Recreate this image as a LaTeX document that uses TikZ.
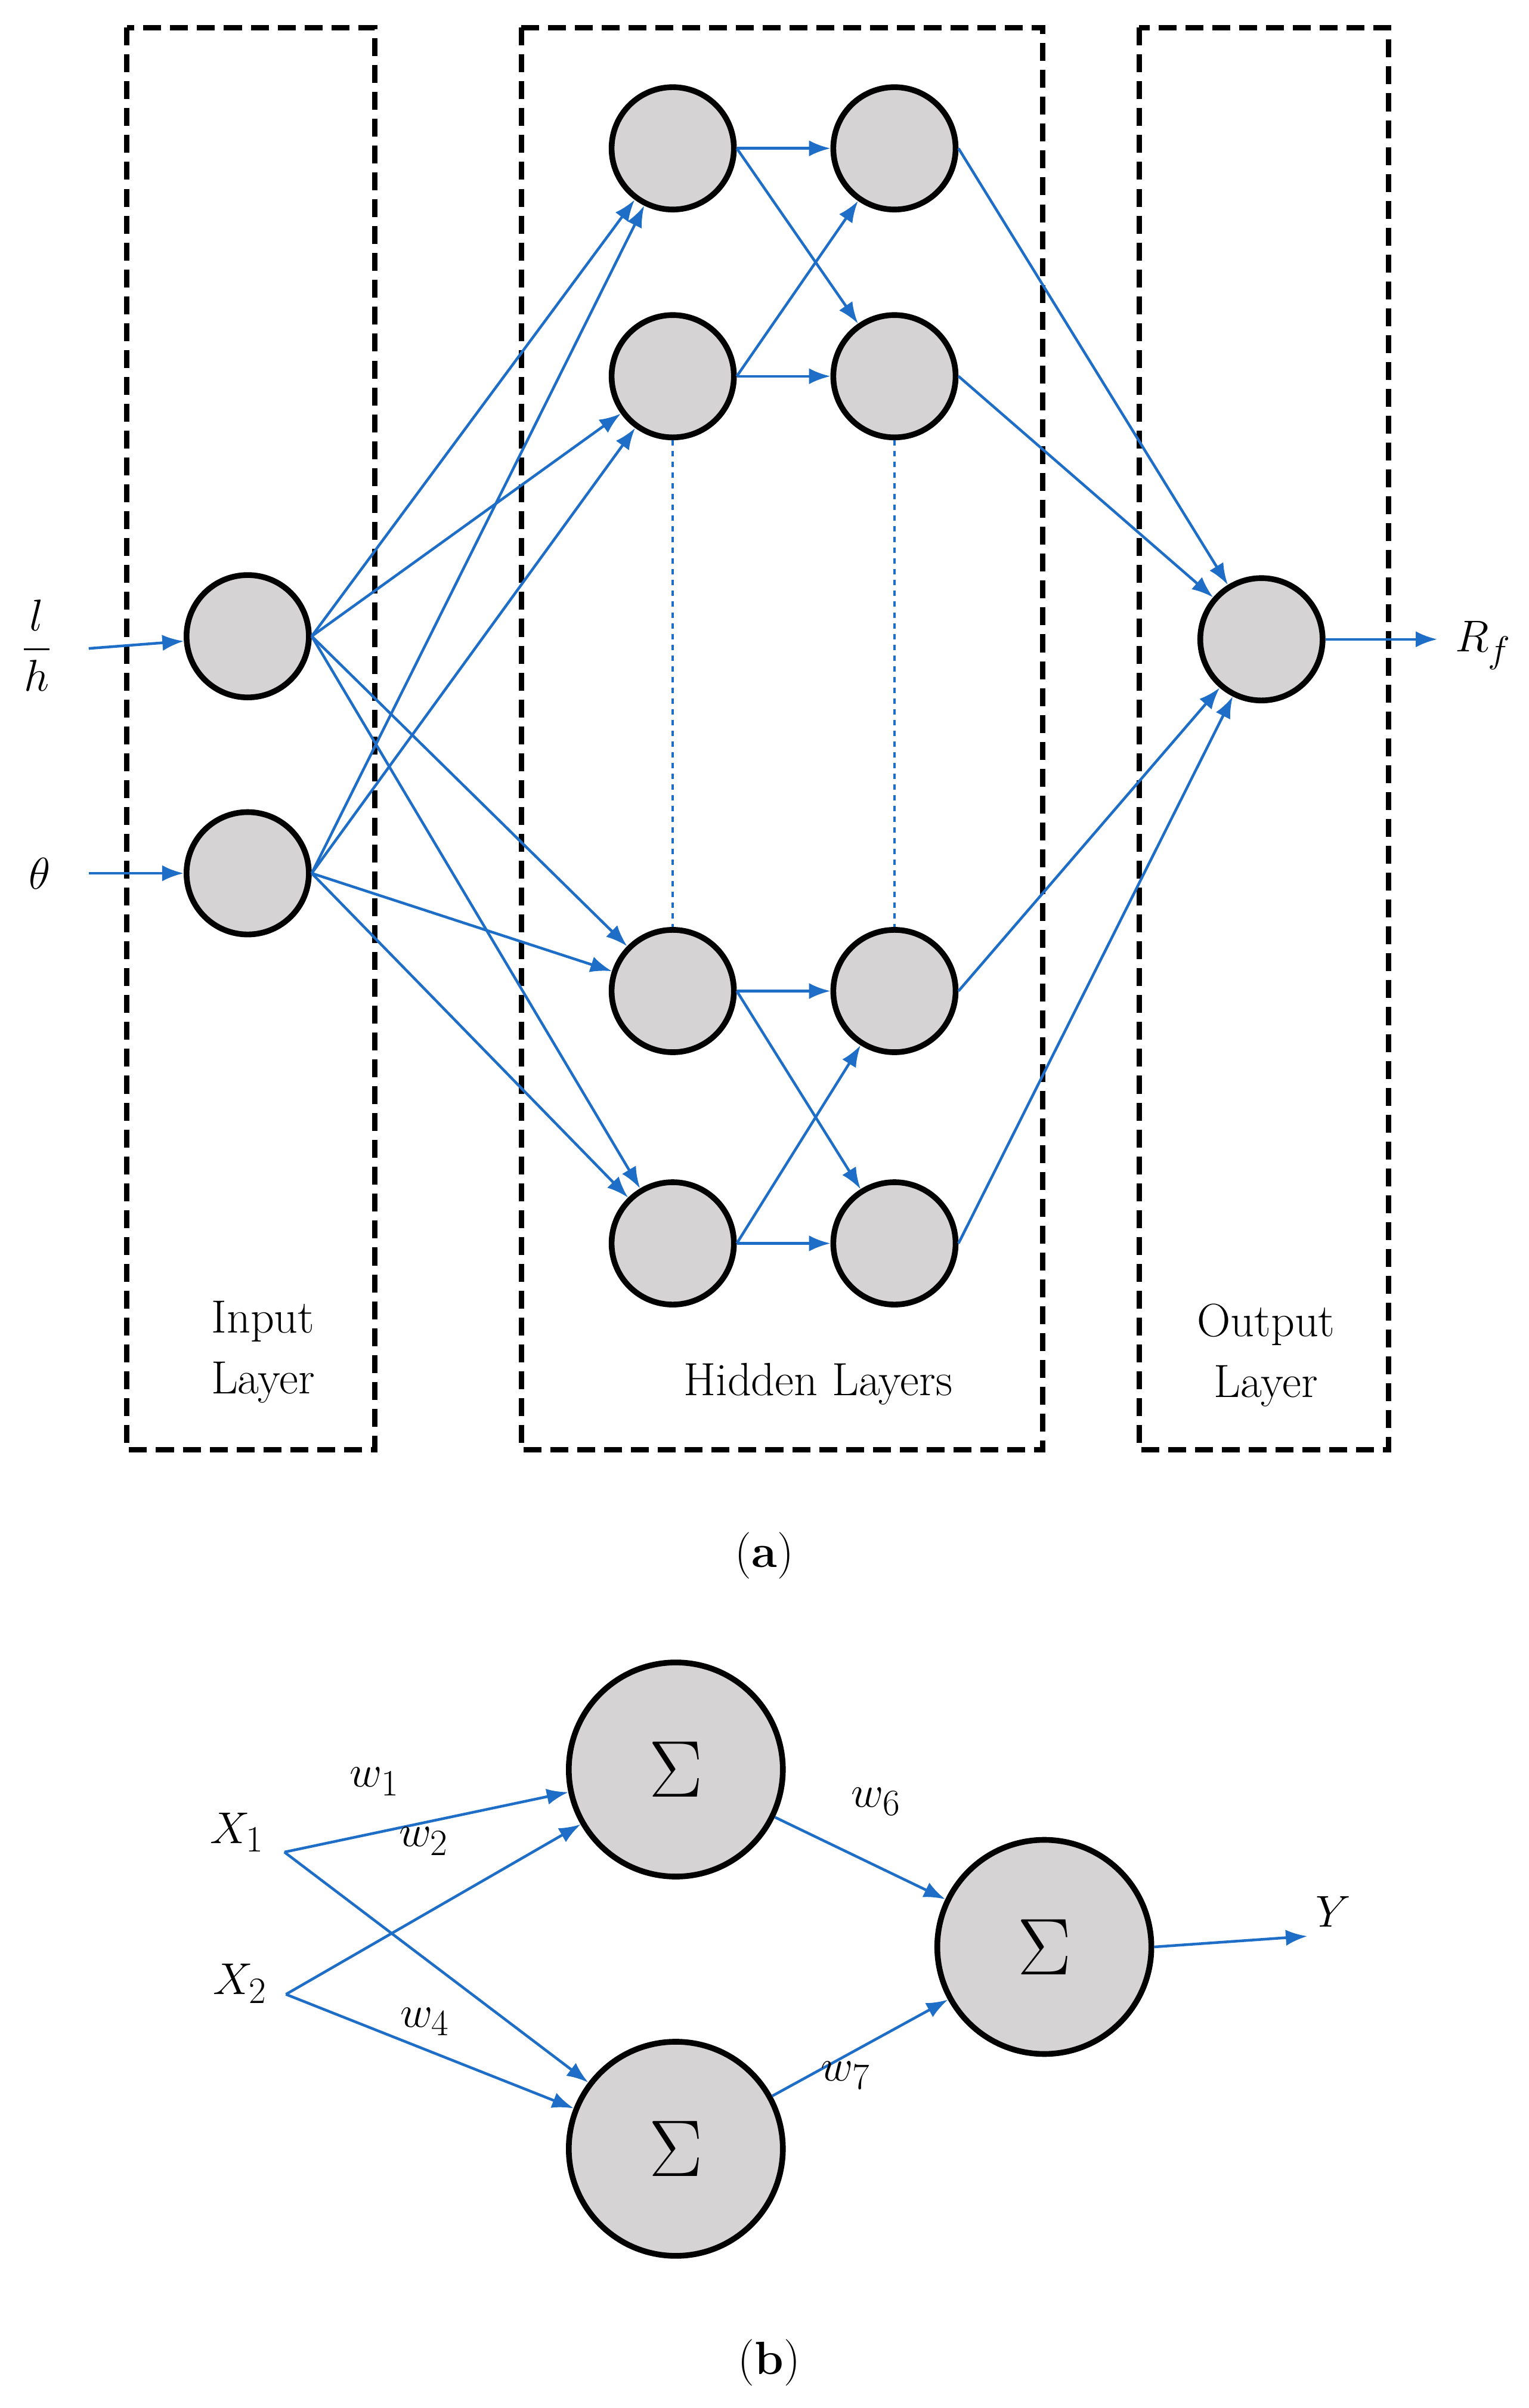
\documentclass[tikz,border=0pt]{standalone}
\usepackage{amsmath}
\usepackage{graphicx}
\usepackage{tikz}
\usetikzlibrary{positioning,arrows.meta}
\definecolor{arrblue}{RGB}{30,110,200}
\definecolor{nodegray}{RGB}{214,211,212}
\newcommand{\bigsum}{\scalebox{2.6}{$\Sigma$}}
\begin{document}
\begin{tikzpicture}
	[
		x=0.03cm, y=-0.03cm,
		neuron/.style={circle, draw=black, line width=3.2pt, fill=nodegray, minimum size=2.4cm, inner sep=0pt},
		bigneuron/.style={circle, draw=black, line width=3.2pt, fill=nodegray, minimum size=4.2cm, inner sep=0pt, font=\fontsize{17}{17}\selectfont},
		layerbox/.style={draw=black, line width=3pt, dash pattern=on 10pt off 5pt},
		conn/.style={draw=arrblue, line width=1.5pt, -{Latex[length=12pt,width=9pt]}},
		lbl/.style={font=\fontsize{26}{30}\selectfont},
		mlbl/.style={font=\fontsize{30}{34}\selectfont}
	]
	\useasboundingbox (0,0) rectangle (1000,1574.5);
	% layer boxes
	\draw[layerbox] (83,18) rectangle (245,948);
	\draw[layerbox] (341,18) rectangle (682,948);
	\draw[layerbox] (745,18) rectangle (908,948);
	% neurons
	\node[neuron](in1) at (162,416) {};
	\node[neuron](in2) at (162,571) {};
	\foreach \i/\y in {1/97,2/246,3/648,4/813} {
		\node[neuron](ha\i) at (440,\y) {};
		\node[neuron](hb\i) at (585,\y) {};
	}
	\node[neuron](out) at (825,418) {};
	% dashed links
	\draw[arrblue, line width=1.2pt, dashed] (ha2) -- (ha3);
	\draw[arrblue, line width=1.2pt, dashed] (hb2) -- (hb3);
	% inputs and output
	\coordinate (cin1) at (58,424);
	\coordinate (cin2) at (58,571);
	\coordinate (cout) at (940,418);
	\node[mlbl](lh) at (24,422) {$\dfrac{l}{h}$};
	\node[mlbl](th) at (26,571) {$\theta$};
	\node[mlbl](rf) at (970,422) {$R_f$};
	\draw[conn] (cin1) -- (in1);
	\draw[conn] (cin2) -- (in2);
	\draw[conn] (out) -- (cout);
	\foreach \i in {1,2} {
		\foreach \j in {1,2,3,4} {\draw[conn] (in\i.east) -- (ha\j);};
	}
	\foreach \i/\j in {1/1,1/2,2/1,2/2,3/3,3/4,4/3,4/4} {\draw[conn] (ha\i.east) -- (hb\j);};
	\foreach \j in {1,2,3,4} {\draw[conn] (hb\j.east) -- (out);};
	% layer names
	\node[lbl, align=center](inlbl) at (172,884) {Input\\[4pt]Layer};
	\node[lbl](hidlbl) at (535,905) {Hidden Layers};
	\node[lbl, align=center](outlbl) at (828,886) {Output\\[4pt]Layer};
	\node[lbl](capa) at (500,1017) {(\textbf{a})};
	% part b
	\node[bigneuron](s1) at (442,1157) {\bigsum};
	\node[bigneuron](s2) at (442,1405) {\bigsum};
	\node[bigneuron](s3) at (683,1273) {\bigsum};
	\node[mlbl](x1) at (155,1198) {$X_1$};
	\node[mlbl](x2) at (157,1297) {$X_2$};
	\coordinate (x1e) at (186,1211);
	\coordinate (x2e) at (187,1304);
	\coordinate (ye) at (855,1266);
	\node[mlbl](y) at (872,1250) {$Y$};
	\draw[conn] (x1e) -- (s1);
	\draw[conn] (x1e) -- (s2);
	\draw[conn] (x2e) -- (s1);
	\draw[conn] (x2e) -- (s2);
	\draw[conn] (s1) -- (s3);
	\draw[conn] (s2) -- (s3);
	\draw[conn] (s3.east) -- (ye);
	\node[mlbl](w1) at (245,1165) {$w_1$};
	\node[mlbl](w2) at (277,1204) {$w_2$};
	\node[mlbl](w4) at (278,1322) {$w_4$};
	\node[mlbl](w6) at (573,1178) {$w_6$};
	\node[mlbl](w7) at (553,1357) {$w_7$};
	\node[lbl](capb) at (503,1545) {(\textbf{b})};
\end{tikzpicture}
\end{document}
